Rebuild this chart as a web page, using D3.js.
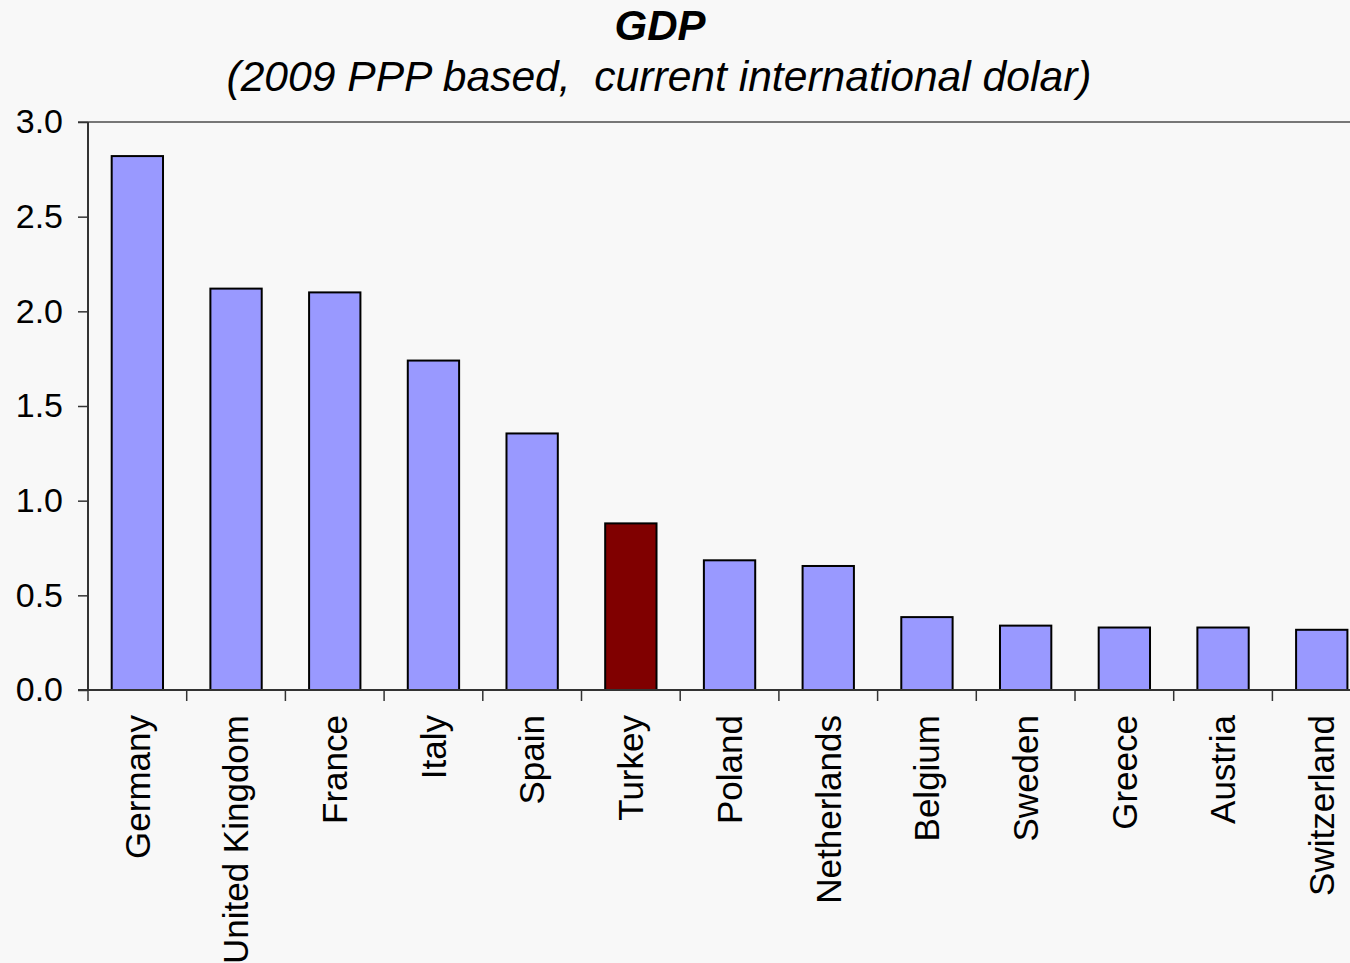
<!DOCTYPE html>
<html>
<head>
<meta charset="utf-8">
<script src="https://cdn.jsdelivr.net/npm/d3@7"></script>
<style>
  html, body { margin: 0; padding: 0; background: #f8f8f8; }
  svg { display: block; }
  text { font-family: "Liberation Sans", Arial, sans-serif; }
</style>
</head>
<body>
<svg id="chart" width="1350" height="963"></svg>
<script>
// GDP by country, trillion international dollars (PPP, 2009)
const countries = ["Germany", "United Kingdom", "France", "Italy", "Spain", "Turkey",
  "Poland", "Netherlands", "Belgium", "Sweden", "Greece", "Austria", "Switzerland"];
const gdp = [2.82, 2.12, 2.10, 1.74, 1.355, 0.88, 0.685, 0.655, 0.385, 0.34, 0.33, 0.33, 0.318];
const highlight = "Turkey";
const yTicks = [0, 0.5, 1.0, 1.5, 2.0, 2.5, 3.0];

const svg = d3.select("#chart");
const plotLeft = 88, plotTop = 122, plotBottom = 690, step = 98.7;
const plotRight = plotLeft + step * countries.length;

const x = d3.scaleBand().domain(countries).range([plotLeft, plotRight])
  .paddingInner(0.48).paddingOuter(0.24);
const y = d3.scaleLinear().domain([0, 3]).range([plotBottom, plotTop]);

// titles
svg.append("text").attr("x", 660).attr("y", 40).attr("text-anchor", "middle")
  .attr("font-size", 42).attr("font-weight", "bold").attr("font-style", "italic")
  .attr("fill", "#000").text("GDP");
svg.append("text").attr("x", 659).attr("y", 91).attr("text-anchor", "middle")
  .attr("font-size", 42.6).attr("font-style", "italic").attr("fill", "#000")
  .attr("xml:space", "preserve")
  .text("(2009 PPP based,  current international dolar)");

// plot frame top edge
svg.append("line").attr("x1", plotLeft - 10).attr("x2", 1350)
  .attr("y1", y(3)).attr("y2", y(3))
  .attr("stroke", "#777").attr("stroke-width", 2);

// bars
svg.append("g").selectAll("rect").data(countries).join("rect")
  .attr("x", d => x(d))
  .attr("width", x.bandwidth())
  .attr("y", (d, i) => y(gdp[i]))
  .attr("height", (d, i) => y(0) - y(gdp[i]))
  .attr("fill", d => d === highlight ? "#800000" : "#9999ff")
  .attr("stroke", "#000").attr("stroke-width", 2);

// y axis
const yAxis = d3.axisLeft(y).tickValues(yTicks).tickFormat(d3.format(".1f"))
  .tickSize(10).tickPadding(15);
const gy = svg.append("g").attr("transform", `translate(${plotLeft},0)`).call(yAxis);
gy.select(".domain").attr("stroke", "#333").attr("stroke-width", 2)
  .attr("d", `M0,${plotTop}V${plotBottom}`);
gy.selectAll(".tick line").attr("stroke", "#333").attr("stroke-width", 1.5);
gy.selectAll(".tick text").attr("font-size", 34).attr("fill", "#000")
  .attr("font-family", "Liberation Sans, Arial, sans-serif");

// x axis baseline and category separators
svg.append("line").attr("x1", plotLeft - 10).attr("x2", 1350)
  .attr("y1", plotBottom).attr("y2", plotBottom)
  .attr("stroke", "#333").attr("stroke-width", 2);
const sepX = countries.map(c => x(c) - x.paddingInner() * x.step() / 2)
  .concat([plotRight]);
sepX[0] = plotLeft;
svg.append("g").selectAll("line").data(sepX).join("line")
  .attr("x1", d => d).attr("x2", d => d)
  .attr("y1", plotBottom).attr("y2", plotBottom + 11)
  .attr("stroke", "#333").attr("stroke-width", 1.5);

// category labels
svg.append("g").selectAll("text").data(countries).join("text")
  .attr("transform", d => `translate(${x(d) + x.bandwidth() / 2},715) rotate(-90)`)
  .attr("text-anchor", "end").attr("dy", "0.35em")
  .attr("font-size", 35).attr("fill", "#000")
  .text(d => d);
</script>
</body>
</html>
